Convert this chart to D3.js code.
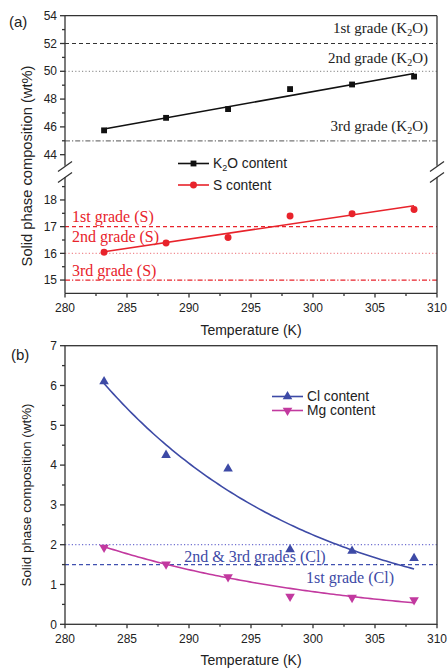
<!DOCTYPE html>
<html><head><meta charset="utf-8">
<script src="https://cdn.jsdelivr.net/npm/d3@7"></script>
<style>body{margin:0;background:#fff}svg{display:block}</style>
</head><body><svg id="c" width="448" height="668"></svg>
<script>
const temps = [283.15, 288.15, 293.15, 298.15, 303.15, 308.15];
const k2o   = [45.75, 46.65, 47.28, 48.72, 49.05, 49.62];
const sCont = [16.04, 16.39, 16.59, 17.40, 17.48, 17.64];
const cl    = [6.10, 4.25, 3.91, 1.88, 1.84, 1.66];
const mg    = [1.93, 1.51, 1.19, 0.70, 0.67, 0.61];
const clFit = [6.05, 0.0588];   // a*exp(-k*(T-283.15))
const mgFit = [1.95, 0.0514];
const xTicks = [280, 285, 290, 295, 300, 305, 310];
const yUpTicks = [44, 46, 48, 50, 52, 54];
const yLoTicks = [15, 16, 17, 18];
const yBTicks = [0, 1, 2, 3, 4, 5, 6, 7];
const k2oGrades = [52, 50, 45];
const k2oGradeLabels = ["1st grade", "2nd grade", "3rd grade"];
const sGrades = [17, 16, 15];
const sGradeLabels = ["1st grade (S)", "2nd grade (S)", "3rd grade (S)"];
const clGrades = [2.0, 1.5];
const clGradeLabels = ["2nd & 3rd grades (Cl)", "1st grade (Cl)"];

const svg = d3.select("#c");
const L = 65, R = 437;
const x = d3.scaleLinear().domain([280, 310]).range([L, R]);
const yU = d3.scaleLinear().domain([43.2, 54]).range([165.8, 15.7]);
const yL = d3.scaleLinear().domain([14.5, 18.86]).range([293.4, 177]);
const yB = d3.scaleLinear().domain([0, 7]).range([624.3, 345.7]);

const sans = "Liberation Sans, Arial, sans-serif";
const serif = "Liberation Serif, Times New Roman, serif";
const RED = "#e8232b", BLUE = "#3d4aa6", MAG = "#c2399f";

function linfit(xs, ys) {
  const mx = d3.mean(xs), my = d3.mean(ys);
  let sxy = 0, sxx = 0;
  xs.forEach((v, i) => { sxy += (v - mx) * (ys[i] - my); sxx += (v - mx) ** 2; });
  const b = sxy / sxx; return t => my + b * (t - mx);
}

// ---------- reference lines ----------
const dashes = ["4,3", "1.2,2.2", "5,2,1.2,2"];
const k2oCols = ["#333", "#999", "#777"];
k2oGrades.forEach((g, i) => {
  svg.append("line").attr("x1", L).attr("x2", R).attr("y1", yU(g)).attr("y2", yU(g))
    .attr("stroke", k2oCols[i]).attr("stroke-width", 1.2).attr("stroke-dasharray", dashes[i]);
});
const k2oLabelY = [33, 63, 131];
k2oGrades.forEach((g, i) => {
  const t = svg.append("text").attr("x", 428).attr("y", k2oLabelY[i]).attr("text-anchor", "end")
    .attr("font-family", serif).attr("font-size", 15).attr("fill", "#222");
  t.append("tspan").text(k2oGradeLabels[i] + " (K");
  t.append("tspan").attr("font-size", 10).attr("dy", 3).text("2");
  t.append("tspan").attr("dy", -3).text("O)");
});
const sCols = [RED, "#f08a90", RED];
sGrades.forEach((g, i) => {
  svg.append("line").attr("x1", L).attr("x2", R).attr("y1", yL(g)).attr("y2", yL(g))
    .attr("stroke", sCols[i]).attr("stroke-width", 1.2).attr("stroke-dasharray", dashes[i]);
});
const sLabelY = [222, 242, 276];
sGradeLabels.forEach((s, i) => {
  svg.append("text").attr("x", 72).attr("y", sLabelY[i]).attr("font-family", serif)
    .attr("font-size", 16).attr("fill", RED).text(s);
});
const clCols = ["#7070d0", "#4050b0"];
const clDash = ["1.2,2.2", "4,3"];
clGrades.forEach((g, i) => {
  svg.append("line").attr("x1", L).attr("x2", R).attr("y1", yB(g)).attr("y2", yB(g))
    .attr("stroke", clCols[i]).attr("stroke-width", 1.2).attr("stroke-dasharray", clDash[i]);
});
svg.append("text").attr("x", 255).attr("y", 562).attr("text-anchor", "middle").attr("font-family", serif)
  .attr("font-size", 16).attr("fill", BLUE).text(clGradeLabels[0]);
svg.append("text").attr("x", 350).attr("y", 583).attr("text-anchor", "middle").attr("font-family", serif)
  .attr("font-size", 16).attr("fill", BLUE).text(clGradeLabels[1]);

// ---------- axes frames ----------
const ax = svg.append("g").attr("stroke", "#333").attr("stroke-width", 1.3).attr("fill", "none");
// panel a
ax.append("line").attr("x1", L).attr("x2", R).attr("y1", yU(54)).attr("y2", yU(54));
ax.append("line").attr("x1", L).attr("x2", R).attr("y1", yL(14.5)).attr("y2", yL(14.5));
[L, R].forEach(px => {
  ax.append("line").attr("x1", px).attr("x2", px).attr("y1", yU(54)).attr("y2", yU(43.2));
  ax.append("line").attr("x1", px).attr("x2", px).attr("y1", yL(18.86)).attr("y2", yL(14.5));
  [166.5, 177.5].forEach(cy => {
    ax.append("line").attr("x1", px - 7).attr("x2", px + 7).attr("y1", cy + 5).attr("y2", cy - 5);
  });
});
// panel b
ax.append("rect").attr("x", L).attr("y", yB(7)).attr("width", R - L).attr("height", yB(0) - yB(7));

// ticks
function xAxisTicks(y0) {
  d3.range(280, 310.01, 2.5).forEach(v => {
    const major = v % 5 === 0;
    ax.append("line").attr("x1", x(v)).attr("x2", x(v)).attr("y1", y0).attr("y2", y0 + (major ? 4 : 2.5));
  });
  xTicks.forEach(v => svg.append("text").attr("x", x(v)).attr("y", y0 + 19).attr("text-anchor", "middle")
    .attr("font-family", sans).attr("font-size", 12).attr("fill", "#222").text(v));
}
xAxisTicks(yL(14.5));
xAxisTicks(yB(0));
function yTicks(scale, majors, minors) {
  minors.forEach(v => ax.append("line").attr("x1", L - 3).attr("x2", L).attr("y1", scale(v)).attr("y2", scale(v)));
  majors.forEach(v => {
    ax.append("line").attr("x1", L - 5).attr("x2", L).attr("y1", scale(v)).attr("y2", scale(v));
    svg.append("text").attr("x", L - 8).attr("y", scale(v) + 4.2).attr("text-anchor", "end")
      .attr("font-family", sans).attr("font-size", 12).attr("fill", "#222").text(v);
  });
}
yTicks(yU, yUpTicks, [45, 47, 49, 51, 53]);
yTicks(yL, yLoTicks, [15.5, 16.5, 17.5, 18.5]);
yTicks(yB, yBTicks, [0.5, 1.5, 2.5, 3.5, 4.5, 5.5, 6.5]);

// titles
svg.append("text").attr("x", 251).attr("y", 335).attr("text-anchor", "middle").attr("font-family", sans)
  .attr("font-size", 14).attr("fill", "#222").text("Temperature (K)");
svg.append("text").attr("x", 251).attr("y", 665).attr("text-anchor", "middle").attr("font-family", sans)
  .attr("font-size", 14).attr("fill", "#222").text("Temperature (K)");
svg.append("text").attr("transform", "translate(32,166) rotate(-90)").attr("text-anchor", "middle")
  .attr("font-family", sans).attr("font-size", 14.7).attr("fill", "#222").text("Solid phase composition (wt%)");
svg.append("text").attr("transform", "translate(31,495) rotate(-90)").attr("text-anchor", "middle")
  .attr("font-family", sans).attr("font-size", 13.4).attr("fill", "#222").text("Solid phase composition (wt%)");
svg.append("text").attr("x", 9).attr("y", 27).attr("font-family", sans).attr("font-size", 15).attr("fill", "#222").text("(a)");
svg.append("text").attr("x", 11).attr("y", 360).attr("font-family", sans).attr("font-size", 15).attr("fill", "#222").text("(b)");

// ---------- fits and data ----------
const tRange = [temps[0], temps[temps.length - 1]];
const fK = linfit(temps, k2o), fS = linfit(temps, sCont);
svg.append("line").attr("x1", x(tRange[0])).attr("x2", x(tRange[1])).attr("y1", yU(fK(tRange[0]))).attr("y2", yU(fK(tRange[1])))
  .attr("stroke", "#111").attr("stroke-width", 1.6);
svg.append("line").attr("x1", x(tRange[0])).attr("x2", x(tRange[1])).attr("y1", yL(fS(tRange[0]))).attr("y2", yL(fS(tRange[1])))
  .attr("stroke", RED).attr("stroke-width", 1.6);
const samp = d3.range(0, 101).map(i => tRange[0] + (tRange[1] - tRange[0]) * i / 100);
const curve = (p, ys) => d3.line().x(t => x(t)).y(t => ys(p[0] * Math.exp(-p[1] * (t - 283.15))));
svg.append("path").attr("d", curve(clFit, yB)(samp)).attr("fill", "none").attr("stroke", BLUE).attr("stroke-width", 1.6);
svg.append("path").attr("d", curve(mgFit, yB)(samp)).attr("fill", "none").attr("stroke", MAG).attr("stroke-width", 1.6);

const sq = d3.symbol().type(d3.symbolSquare).size(34);
const ci = d3.symbol().type(d3.symbolCircle).size(38);
const tri = d3.symbol().type(d3.symbolTriangle).size(40);
temps.forEach((t, i) => {
  svg.append("path").attr("d", sq()).attr("transform", `translate(${x(t)},${yU(k2o[i])})`).attr("fill", "#111");
  svg.append("path").attr("d", ci()).attr("transform", `translate(${x(t)},${yL(sCont[i])})`).attr("fill", RED);
  svg.append("path").attr("d", tri()).attr("transform", `translate(${x(t)},${yB(cl[i])})`).attr("fill", BLUE);
  svg.append("path").attr("d", tri()).attr("transform", `translate(${x(t)},${yB(mg[i])}) rotate(180)`).attr("fill", MAG);
});

// ---------- legends ----------
function legendItem(x1, y, col, sym, rot, label, sub) {
  svg.append("line").attr("x1", x1).attr("x2", x1 + 31).attr("y1", y).attr("y2", y).attr("stroke", col).attr("stroke-width", 1.6);
  svg.append("path").attr("d", sym()).attr("transform", `translate(${x1 + 15.5},${y}) rotate(${rot})`).attr("fill", col);
  const t = svg.append("text").attr("x", x1 + 35).attr("y", y + 4.8).attr("font-family", sans).attr("font-size", 13.8).attr("fill", "#222");
  if (sub) {
    t.append("tspan").text("K");
    t.append("tspan").attr("font-size", 9).attr("dy", 3).text("2");
    t.append("tspan").attr("dy", -3).text("O content");
  } else t.text(label);
}
legendItem(178, 163.5, "#111", sq, 0, "", true);
legendItem(178, 185, RED, ci, 0, "S content", false);
legendItem(272, 396.5, BLUE, tri, 0, "Cl content", false);
legendItem(272, 410.5, MAG, tri, 180, "Mg content", false);
</script></body></html>
